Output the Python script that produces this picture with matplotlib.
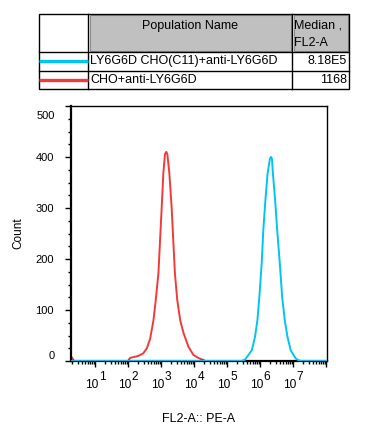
import numpy as np
import matplotlib
matplotlib.use("Agg")
import matplotlib.pyplot as plt
from matplotlib import transforms
from matplotlib.patches import Rectangle
from matplotlib.ticker import LogLocator, NullFormatter, FixedLocator, MultipleLocator, FixedFormatter

plt.rcParams['font.family'] = ['Liberation Sans', 'DejaVu Sans']

# histogram readings (log10 of FL2-A, count)
red_log = [0.27, 0.30, 0.36, 2.00, 2.06, 2.31, 2.46, 2.57, 2.67, 2.77, 2.84, 2.92, 2.97, 3.02, 3.07,
           3.12, 3.16, 3.19, 3.25, 3.32, 3.37, 3.42, 3.49, 3.58, 3.68, 3.83, 3.98, 4.13, 4.28, 4.35, 8.03]
red_count = [7, 7, 0, 0, 6, 10, 15, 25, 44, 80, 120, 172, 237, 302, 369,
             406, 410, 406, 369, 302, 237, 172, 120, 80, 55, 28, 12, 6, 2, 0, 0]
cyan_log = [0.27, 5.45, 5.55, 5.75, 5.85, 5.92, 5.98, 6.05, 6.10, 6.17, 6.23, 6.30, 6.33, 6.36, 6.39,
            6.45, 6.52, 6.60, 6.67, 6.75, 6.83, 6.93, 7.08, 7.18, 7.25, 8.03]
cyan_count = [0, 0, 3, 21, 48, 80, 126, 191, 257, 322, 368, 397, 400, 397, 368,
              322, 257, 191, 126, 80, 48, 21, 5, 1, 0, 0]

pop_names = ["LY6G6D CHO(C11)+anti-LY6G6D", "CHO+anti-LY6G6D"]
medians = ["8.18E5", "1168"]
decades = [1, 2, 3, 4, 5, 6, 7]
yticks = [0, 100, 200, 300, 400, 500]

cyan = '#00c4f2'
red = '#f23a3a'

fig = plt.figure(figsize=(3.65, 4.33), dpi=100)
ax = fig.add_axes([71/365, 72/433, 256/365, 255/433])

ax.plot(10**np.array(red_log), red_count, color=red, lw=1.4, zorder=2)
ax.plot(10**np.array(cyan_log), cyan_count, color=cyan, lw=1.4, zorder=3)

ax.set_xscale('log')
ax.set_xlim(10**0.27, 10**8.03)
ax.set_ylim(0, 500)

ax.xaxis.set_major_locator(LogLocator(base=10, numticks=20))
ax.xaxis.set_minor_locator(LogLocator(base=10, subs=np.arange(2, 10), numticks=50))
ax.xaxis.set_major_formatter(NullFormatter())
ax.xaxis.set_minor_formatter(NullFormatter())

ax.yaxis.set_major_locator(FixedLocator(yticks))
ax.yaxis.set_major_formatter(FixedFormatter(['', '100', '200', '300', '400', '']))
ax.yaxis.set_minor_locator(MultipleLocator(25))

ax.tick_params(which='major', direction='out', length=4.5, width=1.0, labelsize=8, pad=8)
ax.tick_params(which='minor', direction='out', length=2.5, width=1.0)

for s in ['left', 'bottom']:
    ax.spines[s].set_linewidth(1.6)
for s in ['top', 'right']:
    ax.spines[s].set_linewidth(1.0)

# y labels at the ends, shifted inside like the original
ytr = transforms.blended_transform_factory(ax.transAxes, ax.transData)
ax.text(-0.0625, 480, '500', transform=ytr, ha='right', va='center', fontsize=8)
ax.text(-0.0625, 9, '0', transform=ytr, ha='right', va='center', fontsize=8)

# decade labels: "10" with a big raised exponent
xtr = transforms.blended_transform_factory(ax.transData, ax.transAxes)
for d in decades:
    t1 = transforms.offset_copy(xtr, fig=fig, x=3, y=0, units='dots')
    ax.text(10**d, -0.072, '10', transform=t1, ha='right', va='top', fontsize=8.6, clip_on=False)
    t2 = transforms.offset_copy(xtr, fig=fig, x=3.5, y=0, units='dots')
    ax.text(10**d, -0.040, str(d), transform=t2, ha='left', va='top', fontsize=8.6, clip_on=False)

ax.set_xlabel('FL2-A:: PE-A', fontsize=9)
ax.xaxis.set_label_coords(0.5, -0.228)
ax.set_ylabel('Count', fontsize=8.5)
ax.yaxis.set_label_coords(-0.207, 0.5)
ax.yaxis.label.set_va('center')
ax.xaxis.label.set_va('center')

# header table drawn in pixel coordinates
tab = fig.add_axes([0, 0, 1, 1], zorder=-1)
tab.set_xlim(0, 365)
tab.set_ylim(433, 0)
tab.axis('off')

tab.add_patch(Rectangle((89.5, 15), 201, 36, facecolor='#c0c0c0', edgecolor='#8c8c8c', lw=0.8))
tab.add_patch(Rectangle((293.5, 15), 54.5, 36, facecolor='#c0c0c0', edgecolor='#8c8c8c', lw=0.8))
tab.add_patch(Rectangle((39, 14), 310, 75, facecolor='none', edgecolor='black', lw=1.0))
for xv in [88, 292]:
    tab.plot([xv, xv], [14, 89], color='black', lw=1.0)
for yv in [52, 71]:
    tab.plot([39, 349], [yv, yv], color='black', lw=1.0)

tab.text(190, 26, 'Population Name', ha='center', va='center', fontsize=9)
tab.text(294, 26, 'Median ,', ha='left', va='center', fontsize=9)
tab.text(294, 43, 'FL2-A', ha='left', va='center', fontsize=9)

row_y = [61, 80]
for yv, col, name, med in zip(row_y, [cyan, red], pop_names, medians):
    tab.plot([39, 88], [yv, yv], color=col, lw=2.4, solid_capstyle='butt')
    tab.text(90, yv, name, ha='left', va='center', fontsize=9)
    tab.text(347, yv, med, ha='right', va='center', fontsize=9)

fig.savefig('out.png', dpi=100)
